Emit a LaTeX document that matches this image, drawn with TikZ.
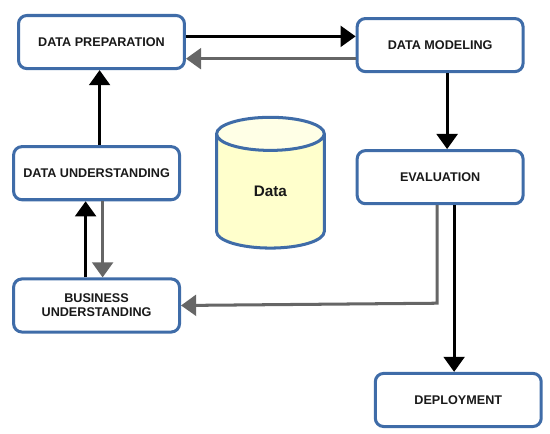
\documentclass[tikz,border=0pt]{standalone}
\usepackage{fontspec}
\setmainfont{Liberation Sans}
\usepackage{tikz}
\usetikzlibrary{arrows.meta,positioning,calc,shapes.geometric}
\definecolor{boxblue}{HTML}{3F6CA8}
\definecolor{flowgrey}{HTML}{666666}
\definecolor{dbyellow}{HTML}{FFFFCC}

\begin{document}
\begin{tikzpicture}[>={Triangle[length=4mm,width=5.5mm]},
	   font=\bfseries\fontsize{9.5}{10.5}\selectfont, text=black!90,
	   b/.style={draw=boxblue, fill=white, line width=0.8mm, rounded corners=2.2mm, align=center, minimum width=43.9mm, minimum height=14.05mm, inner sep=0pt},
	   fwd/.style={->, draw=black, line width=0.8mm},
	   back/.style={->, draw=flowgrey, line width=0.8mm}]
	  \node[b] (prep) {DATA PREPARATION};
	  \node[b, right=44.9mm of prep, yshift=-0.8mm] (model) {DATA MODELING};
	  \node[b, below=20.1mm of model] (eval) {EVALUATION};
	  \node[b, below=44.1mm of eval, xshift=4.8mm] (deploy) {DEPLOYMENT};
	  \node[b, below=19.85mm of prep, xshift=-1.3mm] (under) {DATA UNDERSTANDING};
	  \node[b, below=20.15mm of under] (biz) {BUSINESS\\ UNDERSTANDING};
	  \node[cylinder, shape border rotate=90, aspect=1.0, draw=boxblue, line width=0.8mm, cylinder uses custom fill, cylinder body fill=dbyellow, cylinder end fill=dbyellow!50, minimum width=28.5mm, minimum height=34.6mm, inner sep=0pt, right=9mm of under, yshift=-4.9mm, font=\bfseries\fontsize{11.5}{14}\selectfont] (data) {Data};
	  \coordinate (bend) at ([xshift=-0.8mm,yshift=0.6mm]eval.south |- biz.east);
	  \draw[fwd] ([yshift=1.5mm]prep.east) -- ([yshift=1.5mm]prep.east -| model.west);
	  \draw[back] ([yshift=-3.6mm]model.west) -- ([yshift=-3.6mm]model.west -| prep.east);
	  \draw[fwd] ([xshift=0.8mm]under.north) -- ([xshift=0.8mm]under.north |- prep.south);
	  \draw[fwd] ([xshift=1.85mm]model.south) -- ([xshift=1.85mm]model.south |- eval.north);
	  \draw[fwd] ([xshift=3.7mm]eval.south) -- ([xshift=3.7mm]eval.south |- deploy.north);
	  \draw[fwd] ([xshift=-2.9mm]biz.north) -- ([xshift=-2.9mm]biz.north |- under.south);
	  \draw[back] ([xshift=1.6mm]under.south) -- ([xshift=1.6mm]under.south |- biz.north);
	  \draw[back] ([xshift=-0.8mm]eval.south) -- (bend) -- (biz.east);
	  \useasboundingbox ([shift={(-4.5mm,3.7mm)}]prep.north west) rectangle ++(145.52mm,-114.83mm);
	\end{tikzpicture}
\end{document}
